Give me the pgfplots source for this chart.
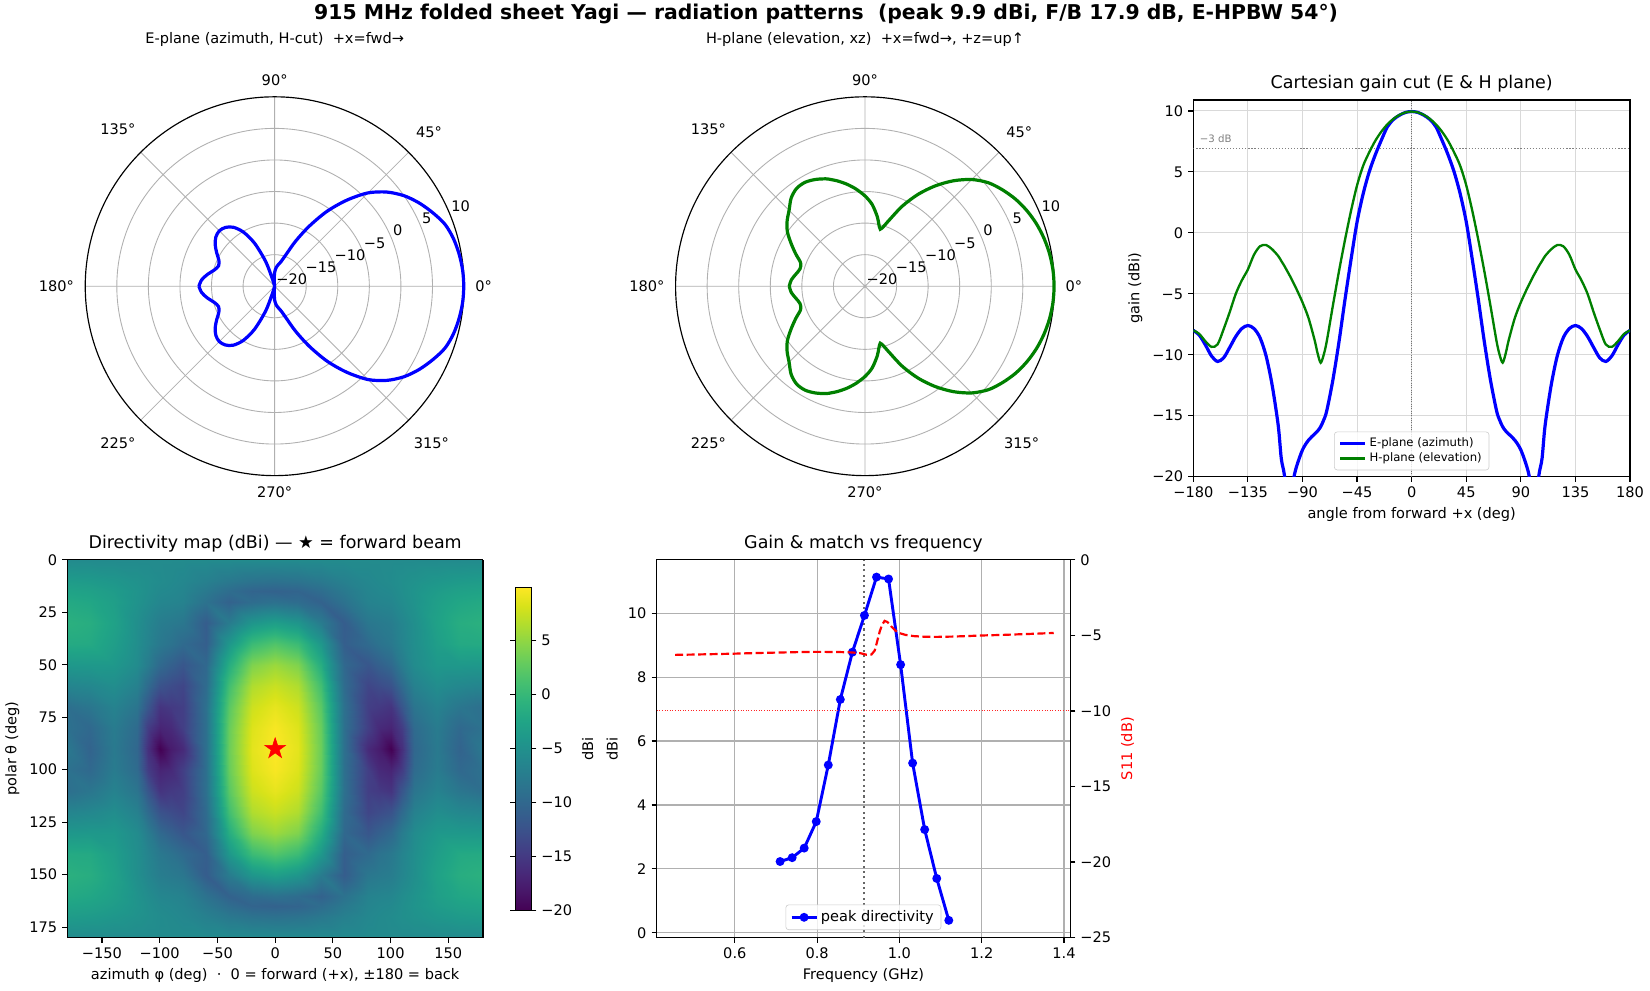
\documentclass[border=0pt]{standalone}
\usepackage{fontspec}
\setmainfont{DejaVu Sans}
\usepackage{pgfplots}
\pgfplotsset{compat=1.18}
\usepackage{pgfplotstable}
\usepgfplotslibrary{polar,colormaps}
\definecolor{mplgrid}{RGB}{176,176,176}
\definecolor{mplgreen}{RGB}{0,128,0}
\definecolor{leggray}{RGB}{204,204,204}

\pgfdeclareplotmark{fstar}{%
  \pgfpathmoveto{\pgfpointpolar{90}{\pgfplotmarksize}}%
  \pgfpathlineto{\pgfpointpolar{126}{0.382*\pgfplotmarksize}}%
  \pgfpathlineto{\pgfpointpolar{162}{\pgfplotmarksize}}%
  \pgfpathlineto{\pgfpointpolar{198}{0.382*\pgfplotmarksize}}%
  \pgfpathlineto{\pgfpointpolar{234}{\pgfplotmarksize}}%
  \pgfpathlineto{\pgfpointpolar{270}{0.382*\pgfplotmarksize}}%
  \pgfpathlineto{\pgfpointpolar{306}{\pgfplotmarksize}}%
  \pgfpathlineto{\pgfpointpolar{342}{0.382*\pgfplotmarksize}}%
  \pgfpathlineto{\pgfpointpolar{18}{\pgfplotmarksize}}%
  \pgfpathlineto{\pgfpointpolar{54}{0.382*\pgfplotmarksize}}%
  \pgfpathclose\pgfusepathqfillstroke}

% angle from forward (deg), E-plane and H-plane gain (dBi)
\pgfplotstableread{
a E H
-180 -8.0 -8.0
-175 -8.4 -8.3
-170 -9.2 -8.9
-165 -10.1 -9.35
-160 -10.55 -9.15
-155 -10.25 -7.9
-150 -9.4 -6.5
-145 -8.5 -5.0
-140 -7.85 -3.9
-135 -7.6 -3.0
-130 -7.85 -1.8
-125 -8.6 -1.1
-120 -10.1 -1.0
-115 -12.5 -1.35
-110 -15.8 -1.9
-107.5 -18.5 -2.3
-105 -19.8 -2.7
-102.5 -22.0 -3.15
-100 -22.5 -3.6
-97.5 -20.3 -4.1
-95 -19.2 -4.6
-90 -17.8 -5.7
-85 -17.0 -7.0
-80 -16.5 -8.8
-77.5 -16.25 -9.9
-75 -15.9 -10.65
-72.5 -15.35 -10.0
-70 -14.6 -8.9
-65 -12.1 -6.0
-60 -9.0 -3.2
-55 -5.5 -0.6
-50 -2.2 1.8
-45 0.9 3.9
-40 3.2 5.5
-35 5.0 6.6
-30 6.4 7.55
-25 7.6 8.3
-20 8.7 8.9
-15 9.3 9.35
-10 9.65 9.68
-5 9.88 9.88
0 9.95 9.95
5 9.88 9.88
10 9.65 9.68
15 9.3 9.35
20 8.7 8.9
25 7.6 8.3
30 6.4 7.55
35 5.0 6.6
40 3.2 5.5
45 0.9 3.9
50 -2.2 1.8
55 -5.5 -0.6
60 -9.0 -3.2
65 -12.1 -6.0
70 -14.6 -8.9
72.5 -15.35 -10.0
75 -15.9 -10.65
77.5 -16.25 -9.9
80 -16.5 -8.8
85 -17.0 -7.0
90 -17.8 -5.7
95 -19.2 -4.6
97.5 -20.3 -4.1
100 -22.5 -3.6
102.5 -22.0 -3.15
105 -19.8 -2.7
107.5 -18.5 -2.3
110 -15.8 -1.9
115 -12.5 -1.35
120 -10.1 -1.0
125 -8.6 -1.1
130 -7.85 -1.8
135 -7.6 -3.0
140 -7.85 -3.9
145 -8.5 -5.0
150 -9.4 -6.5
155 -10.25 -7.9
160 -10.55 -9.15
165 -10.1 -9.35
170 -9.2 -8.9
175 -8.4 -8.3
180 -8.0 -8.0
}\cuts

\pgfplotstableread{
f D
0.7100 2.23
0.7393 2.35
0.7686 2.65
0.7979 3.48
0.8271 5.25
0.8564 7.30
0.8857 8.78
0.9150 9.93
0.9443 11.13
0.9736 11.07
1.0029 8.39
1.0321 5.31
1.0614 3.23
1.0907 1.70
1.1200 0.39
}\gain

\pgfplotstableread{
f S
0.455 -6.29
0.50 -6.27
0.55 -6.24
0.60 -6.21
0.65 -6.17
0.70 -6.14
0.75 -6.11
0.80 -6.09
0.85 -6.10
0.885 -6.13
0.905 -6.18
0.92 -6.28
0.932 -6.27
0.940 -6.0
0.946 -5.4
0.952 -4.75
0.958 -4.3
0.964 -4.04
0.971 -4.12
0.980 -4.4
0.990 -4.68
1.000 -4.85
1.015 -4.97
1.035 -5.05
1.06 -5.09
1.09 -5.1
1.13 -5.08
1.17 -5.04
1.21 -5.0
1.25 -4.97
1.30 -4.92
1.34 -4.88
1.375 -4.84
}\sparam

\tikzset{rlab/.style={anchor=south west, inner sep=1pt, font=\fontsize{10}{12}\selectfont}}

\pgfplotsset{
  mplax/.style={
    scale only axis,
    axis line style={line width=0.8pt},
    tick align=outside,
    major tick length=3.5pt,
    tick style={black, line width=0.8pt},
    xtick pos=left, ytick pos=left,
    tick label style={font=\fontsize{10}{12}\selectfont},
    label style={font=\fontsize{10}{12}\selectfont},
    title style={font=\fontsize{12}{14}\selectfont, yshift=-4pt},
  },
  mpllegend/.style={
    legend cell align=left,
    legend style={draw=leggray, rounded corners=2pt, fill=white, fill opacity=0.8,
      text opacity=1, draw opacity=1, inner xsep=3pt, inner ysep=2pt, row sep=-1pt},
  },
  polarstyle/.style={
    anchor=center, width=3.6in, height=3.6in, scale only axis,
    ymin=0, ymax=30,
    xtick={0,45,...,315},
    xticklabels={0°,45°,90°,135°,180°,225°,270°,315°},
    ytick={5,10,...,25}, yticklabels={},
    grid=major, major grid style={mplgrid, line width=0.6pt},
    separate axis lines,
    x axis line style={black, line width=0.8pt},
    y axis line style={draw=none},
    major tick length=0pt,
    xticklabel style={font=\fontsize{10}{12}\selectfont, inner sep=7.5pt},
    clip=false,
  },
}

\begin{document}
\begin{tikzpicture}
\fill[white] (0,0.49in) rectangle (15.68in,9.9in);

\node[font=\fontsize{14}{17}\selectfont\bfseries] at (7.85in,9.77in)
  {915 MHz folded sheet Yagi — radiation patterns\ \ (peak 9.9 dBi, F/B 17.9 dB, E-HPBW 54°)};
\node[font=\fontsize{10}{12}\selectfont] at (2.61in,9.52in) {E-plane (azimuth, H-cut)\ \ +x=fwd→};
\node[font=\fontsize{10}{12}\selectfont] at (8.22in,9.52in) {H-plane (elevation, xz)\ \ +x=fwd→, +z=up↑};

% ---------- E-plane polar ----------
\begin{polaraxis}[polarstyle, at={(2.61in,7.18in)}]
\addplot[blue, line width=2.2pt, smooth] table[x=a, y expr={max(\thisrow{E}+20,0)}] {\cuts};
\node[rlab] at (axis cs:22.5,0) {−20};
\node[rlab] at (axis cs:22.5,5) {−15};
\node[rlab] at (axis cs:22.5,10) {−10};
\node[rlab] at (axis cs:22.5,15) {−5};
\node[rlab] at (axis cs:22.5,20) {0};
\node[rlab] at (axis cs:22.5,25) {5};
\node[rlab] at (axis cs:22.5,30) {10};
\end{polaraxis}

% ---------- H-plane polar ----------
\begin{polaraxis}[polarstyle, at={(8.22in,7.18in)}]
\addplot[mplgreen, line width=2.2pt, smooth] table[x=a, y expr={max(\thisrow{H}+20,0)}] {\cuts};
\node[rlab] at (axis cs:22.5,0) {−20};
\node[rlab] at (axis cs:22.5,5) {−15};
\node[rlab] at (axis cs:22.5,10) {−10};
\node[rlab] at (axis cs:22.5,15) {−5};
\node[rlab] at (axis cs:22.5,20) {0};
\node[rlab] at (axis cs:22.5,25) {5};
\node[rlab] at (axis cs:22.5,30) {10};
\end{polaraxis}

% ---------- Cartesian cut ----------
\begin{axis}[mplax, mpllegend, at={(11.34in,5.37in)}, anchor=south west,
  width=4.15in, height=3.58in,
  xmin=-180, xmax=180, ymin=-20, ymax=10.9,
  xtick={-180,-135,-90,-45,0,45,90,135,180},
  xticklabels={−180,−135,−90,−45,0,45,90,135,180},
  ytick={-20,-15,-10,-5,0,5,10},
  yticklabels={−20,−15,−10,−5,0,5,10},
  grid=major, major grid style={gray!30, line width=0.6pt},
  title={Cartesian gain cut (E \& H plane)},
  xlabel={angle from forward +x (deg)}, ylabel={gain (dBi)},
  legend style={at={(0.5,0.017)}, anchor=south, font=\fontsize{8}{9.6}\selectfont},
]
\addplot[forget plot, black!55, line width=0.6pt, dash pattern=on 0.6pt off 1pt] coordinates {(0,-20) (0,10.9)};
\addplot[forget plot, gray, line width=0.8pt, dash pattern=on 0.8pt off 1.3pt] coordinates {(-180,6.95) (180,6.95)};
\addplot[blue, line width=2.2pt, smooth] table[x=a, y=E] {\cuts};
\addlegendentry{E-plane (azimuth)}
\addplot[mplgreen, line width=1.6pt, smooth] table[x=a, y=H] {\cuts};
\addlegendentry{H-plane (elevation)}
\node[anchor=south west, inner sep=1pt, font=\fontsize{7}{8}\selectfont, text=gray] at (axis cs:-176,7.25) {−3 dB};
\end{axis}

% ---------- Directivity map ----------
\begin{axis}[scale only axis, at={(0.64in,0.99in)}, anchor=south west,
  width=3.95in, height=3.59in, view={0}{90},
  axis line style={line width=0.8pt},
  tick align=outside, major tick length=3.5pt, tick style={black, line width=0.8pt},
  xtick pos=left, ytick pos=left,
  tick label style={font=\fontsize{10}{12}\selectfont},
  label style={font=\fontsize{10}{12}\selectfont},
  title style={font=\fontsize{12}{14}\selectfont, yshift=-4pt},
  xmin=-180, xmax=180, ymin=0, ymax=180,
  xtick={-150,-100,-50,0,50,100,150},
  xticklabels={−150,−100,−50,0,50,100,150},
  ytick={180,155,130,105,80,55,30,5},
  yticklabels={0,25,50,75,100,125,150,175},
  colormap/viridis, point meta min=-20, point meta max=9.95,
  title={Directivity map (dBi) — ★ = forward beam},
  xlabel={azimuth φ (deg)\ \ ·\ \ 0 = forward (+x), ±180 = back},
  ylabel={polar θ (deg)},
  colorbar,
  colorbar style={at={(parent axis.east)}, anchor=west, xshift=0.19in,
    scale only axis, width=0.15in, height=3.07in,
    ytick={-20,-15,-10,-5,0,5}, yticklabels={−20,−15,−10,−5,0,5},
    ylabel={dBi},
    tick align=outside, major tick length=3.5pt, tick style={black, line width=0.8pt},
    yticklabel style={font=\fontsize{10}{12}\selectfont},
    ylabel style={font=\fontsize{10}{12}\selectfont},
    axis line style={line width=0.8pt}},
]
\addplot3[surf, shader=interp, mesh/cols=23] table[row sep=\\] {
x y z\\
-180 0 -5.7\\ -160 0 -5.7\\ -140 0 -5.7\\ -120 0 -5.7\\ -110 0 -5.7\\ -100 0 -5.7\\ -90 0 -5.7\\ -80 0 -5.7\\ -60 0 -5.7\\ -40 0 -5.7\\ -20 0 -5.7\\ 0 0 -5.7\\ 20 0 -5.7\\ 40 0 -5.7\\ 60 0 -5.7\\ 80 0 -5.7\\ 90 0 -5.7\\ 100 0 -5.7\\ 110 0 -5.7\\ 120 0 -5.7\\ 140 0 -5.7\\ 160 0 -5.7\\ 180 0 -5.7\\
-180 10 -3.6\\ -160 10 -3.8\\ -140 10 -4.25\\ -120 10 -4.85\\ -110 10 -5.2\\ -100 10 -5.6\\ -90 10 -5.85\\ -80 10 -6.15\\ -60 10 -7.0\\ -40 10 -7.95\\ -20 10 -8.6\\ 0 10 -8.8\\ 20 10 -8.6\\ 40 10 -7.95\\ 60 10 -7.0\\ 80 10 -6.15\\ 90 10 -5.85\\ 100 10 -5.6\\ 110 10 -5.2\\ 120 10 -4.85\\ 140 10 -4.25\\ 160 10 -3.8\\ 180 10 -3.6\\
-180 15 -2.7\\ -160 15 -2.95\\ -140 15 -3.6\\ -120 15 -4.6\\ -110 15 -5.25\\ -100 15 -5.9\\ -90 15 -6.1\\ -80 15 -6.45\\ -60 15 -7.9\\ -40 15 -9.4\\ -20 15 -10.4\\ 0 15 -10.65\\ 20 15 -10.4\\ 40 15 -9.4\\ 60 15 -7.9\\ 80 15 -6.45\\ 90 15 -6.1\\ 100 15 -5.9\\ 110 15 -5.25\\ 120 15 -4.6\\ 140 15 -3.6\\ 160 15 -2.95\\ 180 15 -2.7\\
-180 20 -1.9\\ -160 20 -2.25\\ -140 20 -3.2\\ -120 20 -4.7\\ -110 20 -5.5\\ -100 20 -6.3\\ -90 20 -6.5\\ -80 20 -6.75\\ -60 20 -8.8\\ -40 20 -10.65\\ -20 20 -9.45\\ 0 20 -8.9\\ 20 20 -9.45\\ 40 20 -10.65\\ 60 20 -8.8\\ 80 20 -6.75\\ 90 20 -6.5\\ 100 20 -6.3\\ 110 20 -5.5\\ 120 20 -4.7\\ 140 20 -3.2\\ 160 20 -2.25\\ 180 20 -1.9\\
-180 30 -1.0\\ -160 30 -1.4\\ -140 30 -2.85\\ -120 30 -5.2\\ -110 30 -6.35\\ -100 30 -7.45\\ -90 30 -7.8\\ -80 30 -8.2\\ -60 30 -11.3\\ -40 30 -7.6\\ -20 30 -4.3\\ 0 30 -3.2\\ 20 30 -4.3\\ 40 30 -7.6\\ 60 30 -11.3\\ 80 30 -8.2\\ 90 30 -7.8\\ 100 30 -7.45\\ 110 30 -6.35\\ 120 30 -5.2\\ 140 30 -2.85\\ 160 30 -1.4\\ 180 30 -1.0\\
-180 40 -1.8\\ -160 40 -1.9\\ -140 40 -3.3\\ -120 40 -5.3\\ -110 40 -6.6\\ -100 40 -8.0\\ -90 40 -8.7\\ -80 40 -9.7\\ -60 40 -11.1\\ -40 40 -4.1\\ -20 40 0.4\\ 0 40 1.8\\ 20 40 0.4\\ 40 40 -4.1\\ 60 40 -11.1\\ 80 40 -9.7\\ 90 40 -8.7\\ 100 40 -8.0\\ 110 40 -6.6\\ 120 40 -5.3\\ 140 40 -3.3\\ 160 40 -1.9\\ 180 40 -1.8\\
-180 50 -4.1\\ -160 50 -4.0\\ -140 50 -4.05\\ -120 50 -5.6\\ -110 50 -7.55\\ -100 50 -9.85\\ -90 50 -10.9\\ -80 50 -12.0\\ -60 50 -9.95\\ -40 50 -1.4\\ -20 50 4.2\\ 0 50 5.5\\ 20 50 4.2\\ 40 50 -1.4\\ 60 50 -9.95\\ 80 50 -12.0\\ 90 50 -10.9\\ 100 50 -9.85\\ 110 50 -7.55\\ 120 50 -5.6\\ 140 50 -4.05\\ 160 50 -4.0\\ 180 50 -4.1\\
-180 60 -6.5\\ -160 60 -6.15\\ -140 60 -5.4\\ -120 60 -6.95\\ -110 60 -9.7\\ -100 60 -12.45\\ -90 60 -13.15\\ -80 60 -13.8\\ -60 60 -9.55\\ -40 60 0.85\\ -20 60 6.4\\ 0 60 7.55\\ 20 60 6.4\\ 40 60 0.85\\ 60 60 -9.55\\ 80 60 -13.8\\ 90 60 -13.15\\ 100 60 -12.45\\ 110 60 -9.7\\ 120 60 -6.95\\ 140 60 -5.4\\ 160 60 -6.15\\ 180 60 -6.5\\
-180 70 -9.1\\ -160 70 -8.3\\ -140 70 -6.75\\ -120 70 -8.45\\ -110 70 -12.05\\ -100 70 -15.5\\ -90 70 -15.0\\ -80 70 -14.5\\ -60 70 -8.95\\ -40 70 2.25\\ -20 70 7.7\\ 0 70 8.9\\ 20 70 7.7\\ 40 70 2.25\\ 60 70 -8.95\\ 80 70 -14.5\\ 90 70 -15.0\\ 100 70 -15.5\\ 110 70 -12.05\\ 120 70 -8.45\\ 140 70 -6.75\\ 160 70 -8.3\\ 180 70 -9.1\\
-180 80 -8.9\\ -160 80 -9.9\\ -140 80 -7.6\\ -120 80 -9.65\\ -110 80 -14.75\\ -100 80 -17.0\\ -90 80 -16.5\\ -80 80 -14.5\\ -60 80 -9.0\\ -40 80 3.0\\ -20 80 8.45\\ 0 80 9.68\\ 20 80 8.45\\ 40 80 3.0\\ 60 80 -9.0\\ 80 80 -14.5\\ 90 80 -16.5\\ 100 80 -17.0\\ 110 80 -14.75\\ 120 80 -9.65\\ 140 80 -7.6\\ 160 80 -9.9\\ 180 80 -8.9\\
-180 90 -8.0\\ -160 90 -10.5\\ -140 90 -7.85\\ -120 90 -10.1\\ -110 90 -16.0\\ -100 90 -20\\ -90 90 -17.8\\ -80 90 -16.5\\ -60 90 -9.0\\ -40 90 3.2\\ -20 90 8.75\\ 0 90 9.95\\ 20 90 8.75\\ 40 90 3.2\\ 60 90 -9.0\\ 80 90 -16.5\\ 90 90 -17.8\\ 100 90 -20\\ 110 90 -16.0\\ 120 90 -10.1\\ 140 90 -7.85\\ 160 90 -10.5\\ 180 90 -8.0\\
-180 100 -8.9\\ -160 100 -9.9\\ -140 100 -7.6\\ -120 100 -9.65\\ -110 100 -14.75\\ -100 100 -17.0\\ -90 100 -16.5\\ -80 100 -14.5\\ -60 100 -9.0\\ -40 100 3.0\\ -20 100 8.45\\ 0 100 9.68\\ 20 100 8.45\\ 40 100 3.0\\ 60 100 -9.0\\ 80 100 -14.5\\ 90 100 -16.5\\ 100 100 -17.0\\ 110 100 -14.75\\ 120 100 -9.65\\ 140 100 -7.6\\ 160 100 -9.9\\ 180 100 -8.9\\
-180 110 -9.1\\ -160 110 -8.3\\ -140 110 -6.75\\ -120 110 -8.45\\ -110 110 -12.05\\ -100 110 -15.5\\ -90 110 -15.0\\ -80 110 -14.5\\ -60 110 -8.95\\ -40 110 2.25\\ -20 110 7.7\\ 0 110 8.9\\ 20 110 7.7\\ 40 110 2.25\\ 60 110 -8.95\\ 80 110 -14.5\\ 90 110 -15.0\\ 100 110 -15.5\\ 110 110 -12.05\\ 120 110 -8.45\\ 140 110 -6.75\\ 160 110 -8.3\\ 180 110 -9.1\\
-180 120 -6.5\\ -160 120 -6.15\\ -140 120 -5.4\\ -120 120 -6.95\\ -110 120 -9.7\\ -100 120 -12.45\\ -90 120 -13.15\\ -80 120 -13.8\\ -60 120 -9.55\\ -40 120 0.85\\ -20 120 6.4\\ 0 120 7.55\\ 20 120 6.4\\ 40 120 0.85\\ 60 120 -9.55\\ 80 120 -13.8\\ 90 120 -13.15\\ 100 120 -12.45\\ 110 120 -9.7\\ 120 120 -6.95\\ 140 120 -5.4\\ 160 120 -6.15\\ 180 120 -6.5\\
-180 130 -4.1\\ -160 130 -4.0\\ -140 130 -4.05\\ -120 130 -5.6\\ -110 130 -7.55\\ -100 130 -9.85\\ -90 130 -10.9\\ -80 130 -12.0\\ -60 130 -9.95\\ -40 130 -1.4\\ -20 130 4.2\\ 0 130 5.5\\ 20 130 4.2\\ 40 130 -1.4\\ 60 130 -9.95\\ 80 130 -12.0\\ 90 130 -10.9\\ 100 130 -9.85\\ 110 130 -7.55\\ 120 130 -5.6\\ 140 130 -4.05\\ 160 130 -4.0\\ 180 130 -4.1\\
-180 140 -1.8\\ -160 140 -1.9\\ -140 140 -3.3\\ -120 140 -5.3\\ -110 140 -6.6\\ -100 140 -8.0\\ -90 140 -8.7\\ -80 140 -9.7\\ -60 140 -11.1\\ -40 140 -4.1\\ -20 140 0.4\\ 0 140 1.8\\ 20 140 0.4\\ 40 140 -4.1\\ 60 140 -11.1\\ 80 140 -9.7\\ 90 140 -8.7\\ 100 140 -8.0\\ 110 140 -6.6\\ 120 140 -5.3\\ 140 140 -3.3\\ 160 140 -1.9\\ 180 140 -1.8\\
-180 150 -1.0\\ -160 150 -1.4\\ -140 150 -2.85\\ -120 150 -5.2\\ -110 150 -6.35\\ -100 150 -7.45\\ -90 150 -7.8\\ -80 150 -8.2\\ -60 150 -11.3\\ -40 150 -7.6\\ -20 150 -4.3\\ 0 150 -3.2\\ 20 150 -4.3\\ 40 150 -7.6\\ 60 150 -11.3\\ 80 150 -8.2\\ 90 150 -7.8\\ 100 150 -7.45\\ 110 150 -6.35\\ 120 150 -5.2\\ 140 150 -2.85\\ 160 150 -1.4\\ 180 150 -1.0\\
-180 160 -1.9\\ -160 160 -2.25\\ -140 160 -3.2\\ -120 160 -4.7\\ -110 160 -5.5\\ -100 160 -6.3\\ -90 160 -6.5\\ -80 160 -6.75\\ -60 160 -8.8\\ -40 160 -10.65\\ -20 160 -9.45\\ 0 160 -8.9\\ 20 160 -9.45\\ 40 160 -10.65\\ 60 160 -8.8\\ 80 160 -6.75\\ 90 160 -6.5\\ 100 160 -6.3\\ 110 160 -5.5\\ 120 160 -4.7\\ 140 160 -3.2\\ 160 160 -2.25\\ 180 160 -1.9\\
-180 165 -2.7\\ -160 165 -2.95\\ -140 165 -3.6\\ -120 165 -4.6\\ -110 165 -5.25\\ -100 165 -5.9\\ -90 165 -6.1\\ -80 165 -6.45\\ -60 165 -7.9\\ -40 165 -9.4\\ -20 165 -10.4\\ 0 165 -10.65\\ 20 165 -10.4\\ 40 165 -9.4\\ 60 165 -7.9\\ 80 165 -6.45\\ 90 165 -6.1\\ 100 165 -5.9\\ 110 165 -5.25\\ 120 165 -4.6\\ 140 165 -3.6\\ 160 165 -2.95\\ 180 165 -2.7\\
-180 170 -3.6\\ -160 170 -3.8\\ -140 170 -4.25\\ -120 170 -4.85\\ -110 170 -5.2\\ -100 170 -5.6\\ -90 170 -5.85\\ -80 170 -6.15\\ -60 170 -7.0\\ -40 170 -7.95\\ -20 170 -8.6\\ 0 170 -8.8\\ 20 170 -8.6\\ 40 170 -7.95\\ 60 170 -7.0\\ 80 170 -6.15\\ 90 170 -5.85\\ 100 170 -5.6\\ 110 170 -5.2\\ 120 170 -4.85\\ 140 170 -4.25\\ 160 170 -3.8\\ 180 170 -3.6\\
-180 180 -5.7\\ -160 180 -5.7\\ -140 180 -5.7\\ -120 180 -5.7\\ -110 180 -5.7\\ -100 180 -5.7\\ -90 180 -5.7\\ -80 180 -5.7\\ -60 180 -5.7\\ -40 180 -5.7\\ -20 180 -5.7\\ 0 180 -5.7\\ 20 180 -5.7\\ 40 180 -5.7\\ 60 180 -5.7\\ 80 180 -5.7\\ 90 180 -5.7\\ 100 180 -5.7\\ 110 180 -5.7\\ 120 180 -5.7\\ 140 180 -5.7\\ 160 180 -5.7\\ 180 180 -5.7\\
};
\addplot3[only marks, mark=fstar, mark size=7.5pt, red, fill=red] coordinates {(0,90,12)};
\end{axis}

% ---------- Gain & match vs frequency ----------
\begin{axis}[mplax, mpllegend, at={(6.24in,0.99in)}, anchor=south west,
  width=3.93in, height=3.59in,
  xmin=0.41, xmax=1.415, ymin=-0.15, ymax=11.67,
  xtick={0.6,0.8,1.0,1.2,1.4}, xticklabels={0.6,0.8,1.0,1.2,1.4},
  ytick={0,2,4,6,8,10}, yticklabels={0,2,4,6,8,10},
  grid=major, major grid style={mplgrid, line width=0.8pt},
  title={Gain \& match vs frequency},
  xlabel={Frequency (GHz)}, ylabel={dBi},
  legend style={at={(0.5,0.02)}, anchor=south, font=\fontsize{10}{12}\selectfont},
]
\addplot[forget plot, black!60, line width=1.4pt, dash pattern=on 1.4pt off 2.3pt] coordinates {(0.915,-0.15) (0.915,11.67)};
\addplot[blue, line width=2pt, mark=*, mark size=2pt, mark options={solid, fill=blue}] table[x=f, y=D] {\gain};
\addlegendentry{peak directivity}
\end{axis}
\begin{axis}[mplax, at={(6.24in,0.99in)}, anchor=south west,
  width=3.93in, height=3.59in,
  xmin=0.41, xmax=1.415, ymin=-25, ymax=0,
  axis x line=none, axis y line*=right, ytick pos=right, yticklabel pos=right,
  ytick={-25,-20,-15,-10,-5,0}, yticklabels={−25,−20,−15,−10,−5,0},
  ylabel={\textcolor{red}{S11 (dB)}},
]
\addplot[red, line width=1.5pt, dash pattern=on 5.5pt off 2.4pt] table[x=f, y=S] {\sparam};
\addplot[red!85, line width=0.6pt, dash pattern=on 0.6pt off 1.2pt] coordinates {(0.41,-10) (1.415,-10)};
\end{axis}
\pgfresetboundingbox
\path[use as bounding box] (0,0.49in) rectangle (15.68in,9.9in);
\end{tikzpicture}
\end{document}
